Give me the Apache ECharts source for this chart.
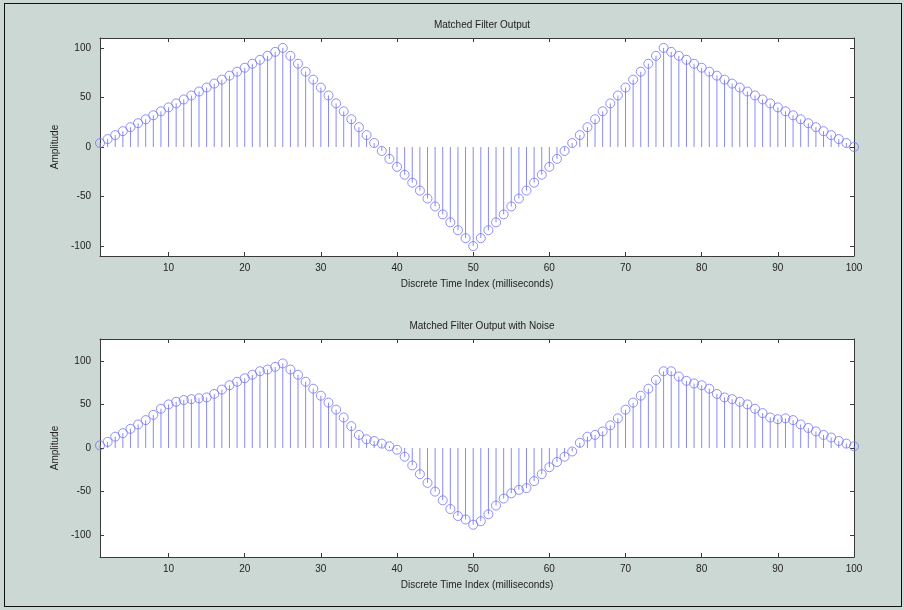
<!DOCTYPE html>
<html>
<head>
<meta charset="utf-8">
<script src="https://cdn.jsdelivr.net/npm/echarts@6/dist/echarts.min.js"></script>
<style>
  html, body { margin: 0; padding: 0; background: #ccd8d4; }
  #chart { width: 904px; height: 610px; }
  #frame { position: absolute; left: 4px; top: 3px; width: 898px; height: 604px; border: 1px solid #111; box-sizing: border-box; pointer-events: none; }
</style>
</head>
<body>
<div id="chart"></div>
<div id="frame"></div>
<script>
const timeIndex = [1,2,3,4,5,6,7,8,9,10,11,12,13,14,15,16,17,18,19,20,21,22,23,24,25,26,27,28,29,30,31,32,33,34,35,36,37,38,39,40,41,42,43,44,45,46,47,48,49,50,51,52,53,54,55,56,57,58,59,60,61,62,63,64,65,66,67,68,69,70,71,72,73,74,75,76,77,78,79,80,81,82,83,84,85,86,87,88,89,90,91,92,93,94,95,96,97,98,99,100];
const cleanOutput = [4,8,12,16,20,24,28,32,36,40,44,48,52,56,60,64,68,72,76,80,84,88,92,96,100,
  92,84,76,68,60,52,44,36,28,20,12,4,-4,-12,-20,-28,-36,-44,-52,-60,-68,-76,-84,-92,-100,
  -92,-84,-76,-68,-60,-52,-44,-36,-28,-20,-12,-4,4,12,20,28,36,44,52,60,68,76,84,92,100,
  96,92,88,84,80,76,72,68,64,60,56,52,48,44,40,36,32,28,24,20,16,12,8,4,0];
const noisyOutput = [3,7,13,17,22,27,32,38,45,50,53,55,56,57,58,62,67,72,76,80,84,88,90,93,97,
  90,84,76,68,60,52,44,35,25,15,10,8,5,2,-2,-10,-20,-30,-40,-50,-60,-70,-78,-82,-88,
  -84,-76,-66,-58,-52,-48,-46,-38,-30,-22,-16,-10,-4,6,13,15,19,26,34,44,52,60,68,78,88,
  88,82,77,74,72,68,62,58,56,53,50,45,40,35,33,34,32,27,23,19,15,12,8,5,2];
const xTickValues = [10,20,30,40,50,60,70,80,90,100];
const yTickValues = [-100,-50,0,50,100];
const titles = ['Matched Filter Output', 'Matched Filter Output with Noise'];
const xName = 'Discrete Time Index (milliseconds)';
const yName = 'Amplitude';

const chart = echarts.init(document.getElementById('chart'), null, { renderer: 'canvas' });
const FONT = 'Liberation Sans, Arial, sans-serif';
const axisColor = '#3a3a3a';
const stemColor = '#8a8af4';
const markColor = '#7474fa';

function pairs(vals) { return timeIndex.map((t, i) => [t, vals[i]]); }

const grids = [
  { left: 100, top: 38, width: 754, height: 218 },
  { left: 100, top: 339, width: 754, height: 218 }
];
const yLims = [110, 125];

const xAxes = [], yAxes = [], series = [];
[0, 1].forEach(g => {
  const base = {
    type: 'value', gridIndex: g, min: 1, max: 100,
    axisLine: { show: true, onZero: false, lineStyle: { color: axisColor, width: 1 } },
    axisTick: { show: true, inside: true, length: 4, customValues: xTickValues, lineStyle: { color: axisColor } },
    splitLine: { show: false }
  };
  xAxes.push(Object.assign({}, base, {
    position: 'bottom',
    axisLabel: { show: true, customValues: xTickValues, margin: 7, fontSize: 10, color: '#222', fontFamily: FONT },
    name: xName, nameLocation: 'middle', nameGap: 23,
    nameTextStyle: { fontSize: 10, color: '#222', fontFamily: FONT }
  }));
  xAxes.push(Object.assign({}, base, { position: 'top', axisLabel: { show: false } }));
  const ybase = {
    type: 'value', gridIndex: g, min: -yLims[g], max: yLims[g],
    axisLine: { show: true, onZero: false, lineStyle: { color: axisColor, width: 1 } },
    axisTick: { show: true, inside: true, length: 4, customValues: yTickValues, lineStyle: { color: axisColor } },
    splitLine: { show: false }
  };
  yAxes.push(Object.assign({}, ybase, {
    position: 'left',
    axisLabel: { show: true, customValues: yTickValues, margin: 9, fontSize: 10, color: '#222', fontFamily: FONT },
    name: yName, nameLocation: 'middle', nameGap: 33,
    nameTextStyle: { fontSize: 10, color: '#222', fontFamily: FONT }
  }));
  yAxes.push(Object.assign({}, ybase, { position: 'right', axisLabel: { show: false } }));

  const data = pairs(g === 0 ? cleanOutput : noisyOutput);
  series.push({
    type: 'custom', xAxisIndex: g * 2, yAxisIndex: g * 2, data: data, silent: true,
    encode: { x: 0, y: 1 },
    renderItem: function (params, api) {
      const x = api.value(0), y = api.value(1);
      const p0 = api.coord([x, 0]), p1 = api.coord([x, y]);
      return { type: 'line', shape: { x1: p0[0], y1: p0[1], x2: p1[0], y2: p1[1] },
        style: { stroke: stemColor, lineWidth: 1 } };
    }
  });
  series.push({
    type: 'scatter', xAxisIndex: g * 2, yAxisIndex: g * 2, data: data, silent: true,
    symbol: 'circle', symbolSize: 9, clip: false,
    itemStyle: { color: 'rgba(0,0,0,0)', borderColor: markColor, borderWidth: 1 }
  });
});

chart.setOption({
  backgroundColor: '#ccd8d4',
  animation: false,
  title: [
    { text: titles[0], left: 477, top: 15, textAlign: 'center',
      textStyle: { fontSize: 10, fontWeight: 'normal', color: '#222', fontFamily: FONT } },
    { text: titles[1], left: 477, top: 316, textAlign: 'center',
      textStyle: { fontSize: 10, fontWeight: 'normal', color: '#222', fontFamily: FONT } }
  ],
  grid: grids.map(g => Object.assign({ backgroundColor: '#ffffff', show: true, borderWidth: 0 }, g)),
  xAxis: xAxes,
  yAxis: yAxes,
  series: series
});
</script>
</body>
</html>
